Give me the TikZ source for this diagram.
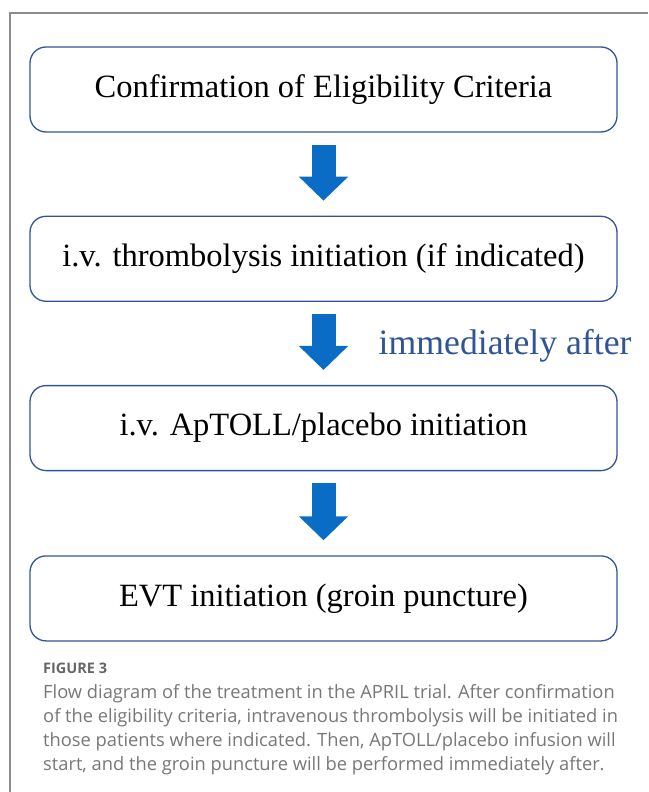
\documentclass[tikz,border=0pt]{standalone}
\usepackage{fontspec}
\setmainfont{Liberation Serif}
\newfontfamily\capfont{Open Sans}
\usetikzlibrary{positioning,arrows.meta}
\definecolor{boxblue}{HTML}{2F5597}
\definecolor{arrowblue}{HTML}{0A6CC4}
\definecolor{framegray}{HTML}{8C8C8C}
\definecolor{capgray}{HTML}{777777}

\begin{document}
\begin{tikzpicture}[x=1pt, y=-1pt,
  stepbox/.style={draw=boxblue, line width=1.3pt, rounded corners=16pt,
    minimum width=587pt, minimum height=85pt, inner sep=0pt,
    font=\fontsize{32.5}{36}\selectfont},
  flow/.style={arrowblue, line width=24pt, -{Triangle[width=48pt,length=24pt]},
    shorten <=12pt, shorten >=15pt}]
\useasboundingbox (0,0) rectangle (648,792);

% Frame
\draw[framegray, line width=1.5pt] (648,13) -- (10,13) -- (10,792);

% Steps
\node[stepbox] (confirm) at (323.5,89.5) {Confirmation of Eligibility Criteria};
\node[stepbox, below=83pt of confirm] (ivt) {i.v. thrombolysis initiation (if indicated)};
\node[stepbox, below=83pt of ivt] (aptoll) {i.v. ApTOLL/placebo initiation};
\node[stepbox, below=84pt of aptoll] (evt) {EVT initiation (groin puncture)};

% Arrows
\draw[flow] (confirm) -- (ivt);
\draw[flow] (ivt) -- coordinate (gap) (aptoll);
\draw[flow] (aptoll) -- (evt);
\node[boxblue, inner sep=0pt, right=55pt of gap, yshift=-2pt,
  font=\fontsize{35.7}{40}\selectfont] (after) {immediately after};

% Caption
\node[capgray!85!black, anchor=base west, inner sep=0pt,
  font=\capfont\bfseries\fontsize{14.5}{16}\selectfont] (figno) at (43,673) {FIGURE 3};
\node[capgray, inner sep=0pt, align=left,
  font=\capfont\fontsize{18.3}{24}\selectfont, below=11pt of figno.base west,
  anchor=north west]
  (caption) {Flow diagram of the treatment in the APRIL trial. After confirmation\\
of the eligibility criteria, intravenous thrombolysis will be initiated in\\
those patients where indicated. Then, ApTOLL/placebo infusion will\\
start, and the groin puncture will be performed immediately after.};
\end{tikzpicture}
\end{document}
